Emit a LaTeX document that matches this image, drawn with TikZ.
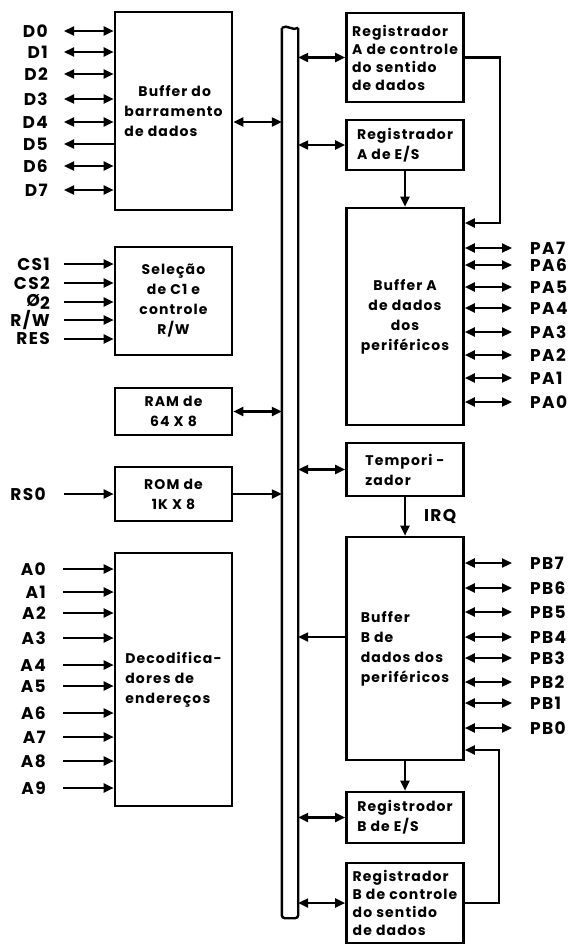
\documentclass[tikz,border=0pt]{standalone}
\usepackage{fontspec}
\setmainfont{Poppins}[LetterSpace=8]
\usetikzlibrary{arrows.meta}

\tikzset{
  blk/.style={draw, line width=2.6pt, inner sep=2pt, minimum width=117pt,
    font=\fontsize{14}{20}\selectfont\bfseries},
  sig/.style={inner xsep=0pt, font=\fontsize{17}{18}\selectfont\bfseries},
  wire/.style={line width=2.2pt},
}

\begin{document}
\begin{tikzpicture}[x=1pt,y=-1pt,>={Triangle[length=10pt,width=9pt]}]
  \useasboundingbox (0,0) rectangle (576,946);
  % barramento
  \node[minimum width=16pt, minimum height=890pt, inner sep=0pt] (bus) at (290,473) {};
  \draw[line width=2.4pt, rounded corners=3pt] (bus.north west) -- (bus.south west) -- (bus.south east) -- (bus.north east);
  \draw[line width=2.4pt] (bus.north west) .. controls +(5,-4) and +(-5,4) .. (bus.north east);

  % blocos da esquerda
  \node[blk, minimum height=198pt, align=left] (bufd) at (173.5,111) {\quad Buffer do\\barramento\\de dados};
  \node[blk, minimum height=108pt, align=center] (sel) at (173.5,301) {Seleção\\de C1 e\\controle\\R/W};
  \node[blk, minimum height=47pt, align=center] (ram) at (173.5,411.5) {RAM de\\64 X 8};
  \node[blk, minimum height=54pt, align=center] (rom) at (173.5,494) {ROM de\\1K X 8};
  \node[blk, minimum height=253pt, align=left] (dec) at (173.5,679.5) {Decodifica-\\dores de\\endereços};

  % blocos da direita
  \node[blk, minimum height=89pt, align=left, font=\fontsize{14}{18}\selectfont\bfseries] (regac) at (405,57.5) {Registrador\\A de controle\\do sentido\\de dados};
  \node[blk, minimum height=50pt, align=left] (regaes) at (405,145) {Registrador\\A de E/S};
  \node[blk, minimum height=217pt, align=center] (bufa) at (405,316.5) {Buffer A\\de dados\\dos\\periféricos};
  \node[blk, minimum height=53pt, align=left] (temp) at (405,469.5) {Tempori -\\zador};
  \node[blk, minimum height=223pt, align=left] (bufb) at (405,648.5) {Buffer\\B de\\dados dos\\periféricos};
  \node[blk, minimum height=51pt, align=left] (regbes) at (405,817.5) {Registrodor\\B de E/S};
  \node[blk, minimum height=80pt, align=left, font=\fontsize{14}{18}\selectfont\bfseries] (regbc) at (405,903) {Registrador\\B de controle\\do sentido\\de dados};

  % dados
  \foreach \n/\y in {0/31,1/52,2/74,3/99,4/122,5/144,6/166,7/190}
    \node[sig, anchor=east] (d\n) at (48,\y) {D\n};
  \foreach \n in {0,1,2,3,4,6,7}
    \draw[wire,<->] ([xshift=16pt]d\n.east) -- (d\n.east -| bufd.west);
  \draw[wire,<-] ([xshift=16pt]d5.east) -- (d5.east -| bufd.west);

  % selecao
  \foreach \s/\t/\y in {cs1/CS1/264, cs2/CS2/283, phi/{Ø\raisebox{-3pt}{2}}/302, rw/{R/W}/320, res/RES/339} {
    \node[sig, anchor=east] (\s) at (50,\y) {\t};
    \draw[wire,->] ([xshift=14pt]\s.east) -- (\s.east -| sel.west);
  }
  \node[sig, anchor=east] (rso) at (46,494) {RS0};
  \draw[wire,->] ([xshift=18pt]rso.east) -- (rom.west);

  % enderecos
  \foreach \n/\y in {0/569,1/592,2/613,3/638,4/665,5/686,6/713,7/737,8/761,9/788} {
    \node[sig, anchor=east] (a\n) at (46,\y) {A\n};
    \draw[wire,->] ([xshift=17pt]a\n.east) -- (a\n.east -| dec.west);
  }

  % portas A e B
  \foreach \n/\y in {7/248,6/265,5/287,4/308,3/332,2/355,1/378,0/402} {
    \node[sig, anchor=west] (pa\n) at (530,\y) {PA\n};
    \draw[wire,<->] (pa\n.west -| bufa.east) -- ([xshift=-18pt]pa\n.west);
  }
  \foreach \n/\y in {7/563,6/588,5/612,4/637,3/658,2/682,1/703,0/728} {
    \node[sig, anchor=west] (pb\n) at (530,\y) {PB\n};
    \draw[wire,<->] (pb\n.west -| bufb.east) -- ([xshift=-18pt]pb\n.west);
  }

  % ligacoes ao barramento
  \draw[wire,<->] (bufd.east |- d4) -- (bus.west |- d4);
  \draw[wire,<->] (ram.east) -- (ram.east -| bus.west);
  \draw[wire,->] (rom.east) -- (rom.east -| bus.west);
  \foreach \b in {regac,regaes,temp,regbes,regbc}
    \draw[wire,<->] (bus.east |- \b.west) -- (\b.west);
  \draw[wire,->] (bufb.west |- pb4) -- (bus.east |- pb4);

  \draw[wire,->] (regaes) -- (bufa);
  \draw[wire,->] (temp) -- (bufb) node[sig, midway, right, xshift=18pt] (irq) {IRQ};
  \draw[wire,->] (bufb) -- (regbes);

  \coordinate (fa) at (500,223);
  \draw[wire,->] (regac.east) -| (fa) -- (fa -| bufa.east);
  \coordinate (fb) at (499,750);
  \draw[wire,->] (regbc.east) -| (fb) -- (fb -| bufb.east);
\end{tikzpicture}
\end{document}
